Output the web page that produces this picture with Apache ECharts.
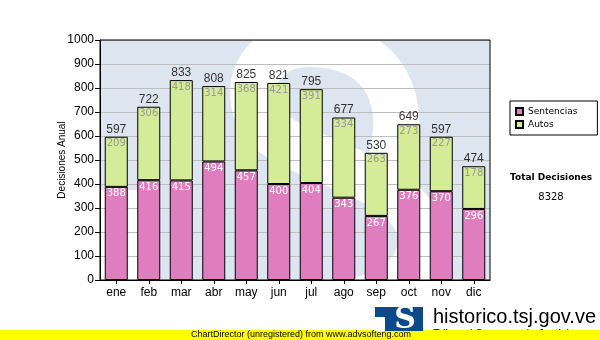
<!DOCTYPE html>
<html>
<head>
<meta charset="utf-8">
<script src="https://cdn.jsdelivr.net/npm/echarts@6/dist/echarts.min.js"></script>
<style>
  html, body { margin: 0; padding: 0; background: #ffffff; }
  #chart { width: 600px; height: 340px; }
</style>
</head>
<body>
<div id="chart"></div>
<script>
// Monthly decisions, split by type
const months = ['ene', 'feb', 'mar', 'abr', 'may', 'jun', 'jul', 'ago', 'sep', 'oct', 'nov', 'dic'];
const sentencias = [388, 416, 415, 494, 457, 400, 404, 343, 267, 376, 370, 296];
const autos = [209, 306, 418, 314, 368, 421, 391, 334, 263, 273, 227, 178];
const seriesNames = ['Sentencias', 'Autos'];
const yMin = 0;
const yMax = 1000;
const yStep = 100;
const axisTitle = 'Decisiones Anual';
const totalTitle = 'Total Decisiones';
const footerText = 'ChartDirector (unregistered) from www.advsofteng.com';
const siteText = 'historico.tsj.gov.ve';
const siteSubText = 'Tribunal Supremo de Justicia';

const totals = months.map((m, i) => sentencias[i] + autos[i]);
const grandTotal = totals.reduce((a, b) => a + b, 0);

const ARIAL = '"Liberation Sans", Arial, sans-serif';
const VERDANA = '"DejaVu Sans", Verdana, sans-serif';
const PINK = '#df7dbf';
const GREEN = '#d4eb97';
const WM_BLUE = '#dde6f0';

// white stroke of the faded "S" logo behind the plot
const sStroke = [
  [392, 152, 405, 110, 392, 45, 310, 44],
  [310, 44, 262, 44, 243, 82, 258, 116],
  [258, 116, 272, 150, 360, 165, 400, 200],
  [400, 200, 440, 236, 420, 286, 360, 300]
];
const sElements = sStroke.map(c => ({
  type: 'bezierCurve', z: 0, silent: true,
  shape: { x1: c[0], y1: c[1], cpx1: c[2], cpy1: c[3], cpx2: c[4], cpy2: c[5], x2: c[6], y2: c[7] },
  style: { fill: null, stroke: '#ffffff', lineWidth: 46, lineCap: 'round' }
}));

const chart = echarts.init(document.getElementById('chart'), null, { renderer: 'canvas' });

chart.setOption({
  animation: false,
  backgroundColor: '#ffffff',
  grid: {
    left: 100, right: 110, top: 40, bottom: 60,
    show: true, z: 5,
    backgroundColor: 'transparent',
    borderColor: '#000000', borderWidth: 1
  },
  legend: {
    data: seriesNames,
    orient: 'vertical',
    left: 510, top: 101,
    icon: 'rect',
    itemWidth: 7, itemHeight: 7, itemGap: 4,
    padding: [6, 20, 6, 5],
    backgroundColor: '#ffffff',
    borderColor: '#000000', borderWidth: 1, borderRadius: 0,
    textStyle: { fontFamily: VERDANA, fontSize: 9, color: '#000000' }
  },
  xAxis: {
    type: 'category',
    data: months,
    z: 3,
    axisLine: { show: true, lineStyle: { color: '#000000', width: 1 } },
    axisTick: { show: true, alignWithLabel: true, length: 4, lineStyle: { color: '#000000' } },
    axisLabel: { fontFamily: ARIAL, fontSize: 12, color: '#000000', margin: 7 },
    splitLine: { show: false }
  },
  yAxis: {
    type: 'value',
    min: yMin, max: yMax, interval: yStep,
    z: 1,
    name: axisTitle,
    nameLocation: 'middle',
    nameGap: 33,
    nameMoveOverlap: false,
    nameTextStyle: { fontFamily: ARIAL, fontSize: 10, color: '#000000' },
    axisLine: { show: true, lineStyle: { color: '#000000', width: 1 } },
    axisTick: { show: true, length: 5, lineStyle: { color: '#000000' } },
    axisLabel: { fontFamily: ARIAL, fontSize: 12, color: '#000000', margin: 6, formatter: v => String(v) },
    splitLine: { show: true, lineStyle: { color: '#bdbdbd', width: 1 } }
  },
  series: [
    {
      name: seriesNames[0],
      type: 'bar',
      stack: 'decisiones',
      barWidth: 23,
      data: sentencias,
      itemStyle: { color: PINK, borderColor: '#000000', borderWidth: 1 },
      label: {
        show: true, position: 'insideTop', distance: 2,
        fontFamily: VERDANA, fontSize: 10, color: '#ffffff'
      }
    },
    {
      name: seriesNames[1],
      type: 'bar',
      stack: 'decisiones',
      barWidth: 23,
      data: autos,
      itemStyle: { color: GREEN, borderColor: '#000000', borderWidth: 1 },
      label: {
        show: true, position: 'insideTop', distance: 2,
        fontFamily: VERDANA, fontSize: 10, color: '#999999'
      }
    },
    {
      // stack totals written above each bar
      name: 'total',
      type: 'scatter',
      data: totals,
      symbolSize: 1,
      itemStyle: { color: 'rgba(0,0,0,0)' },
      z: 4,
      label: {
        show: true, position: 'top', distance: 1,
        fontFamily: ARIAL, fontSize: 12, color: '#000000'
      }
    }
  ],
  graphic: [
    { type: 'rect', z: 0, silent: true,
      shape: { x: 100, y: 40, width: 390, height: 240 },
      style: { fill: WM_BLUE } },
    { type: 'rect', z: 0, silent: true,
      shape: { x: 100, y: 190, width: 53, height: 90 },
      style: { fill: '#ffffff' } }
  ].concat(sElements).concat([
    // white margin around the plot hides the stroke overflow
    { type: 'rect', z: 0, silent: true, shape: { x: 100, y: 0, width: 400, height: 39.5 }, style: { fill: '#ffffff' } },
    { type: 'rect', z: 0, silent: true, shape: { x: 490.5, y: 30, width: 30, height: 260 }, style: { fill: '#ffffff' } },

    // totals panel
    { type: 'text', z: 10, silent: true,
      style: { text: totalTitle, x: 510, y: 178, font: 'bold 9px ' + VERDANA, fill: '#000000', textVerticalAlign: 'middle' } },
    { type: 'text', z: 10, silent: true,
      style: { text: String(grandTotal), x: 551, y: 197, font: '10px ' + VERDANA, fill: '#000000', textAlign: 'center', textVerticalAlign: 'middle' } },

    // site banner
    { type: 'text', z: 10, silent: true,
      style: { text: siteSubText, x: 433, y: 328, font: '11px ' + ARIAL, fill: '#000000', textVerticalAlign: 'top' } },
    { type: 'rect', z: 11, silent: true,
      shape: { x: 0, y: 330, width: 600, height: 10 },
      style: { fill: '#ffff00' } },
    { type: 'rect', z: 12, silent: true,
      shape: { x: 375, y: 307, width: 48, height: 24 },
      style: { fill: '#0c4a8c' } },
    { type: 'rect', z: 13, silent: true,
      shape: { x: 375, y: 317, width: 10, height: 14 },
      style: { fill: '#ffffff' } },
    { type: 'text', z: 13, silent: true,
      style: { text: 'S', x: 405, y: 320, font: 'bold 30px "DejaVu Serif", "Liberation Serif", serif', fill: '#ffffff', textAlign: 'center', textVerticalAlign: 'middle' } },
    { type: 'text', z: 14, silent: true,
      style: { text: footerText, x: 191, y: 335, font: '9px ' + ARIAL, fill: '#000000', textVerticalAlign: 'middle' } },
    { type: 'text', z: 12, silent: true,
      style: { text: siteText, x: 433, y: 317, font: '20px ' + ARIAL, fill: '#000000', textVerticalAlign: 'middle' } }
  ])
});
</script>
</body>
</html>
